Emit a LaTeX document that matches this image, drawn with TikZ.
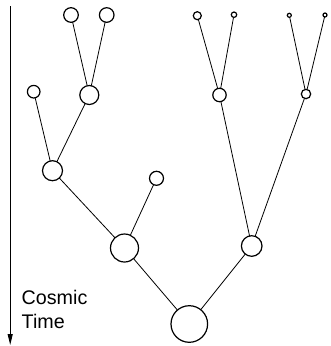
\documentclass[tikz,border=0pt]{standalone}
\usepackage{fontspec}
\setmainfont{Liberation Sans}
\usetikzlibrary{arrows.meta}
\begin{document}
\begin{tikzpicture}[x=1pt,y=-1pt,
  halo/.style={circle,draw,line width=1.2pt,inner sep=0pt,outer sep=0pt,minimum size=#1},
  link/.style={line width=0.8pt},
  axislabel/.style={anchor=base west,inner sep=0pt,font=\fontsize{19.7}{24}\selectfont}]
\useasboundingbox (0,0) rectangle (331,346);
% merger tree: haloes drawn as circles sized by mass
\node[halo=36.6pt] (root) at (189.3,324) {};
\node[halo=28pt]   (l1)   at (124.5,248) {};
\node[halo=20.6pt] (r1)   at (251.7,246) {};
\node[halo=20pt]   (l2)   at (52.5,170.7) {};
\node[halo=14pt]   (s1)   at (156.5,178.3) {};
\node[halo=12.6pt] (a1)   at (33.7,91.7) {};
\node[halo=19pt]   (l3)   at (89.3,95) {};
\node[halo=14.6pt] (t1)   at (71,15) {};
\node[halo=14.6pt] (t2)   at (106.7,15) {};
\node[halo=13.4pt] (r2)   at (219.5,95) {};
\node[halo=9.4pt]  (r3)   at (306,94) {};
\node[halo=8pt]    (u1)   at (197.3,15.7) {};
\node[halo=5.4pt]  (u2)   at (234,14.7) {};
\node[halo=4pt]    (v1)   at (289.3,15.3) {};
\node[halo=4pt]    (v2)   at (325,15) {};
% progenitor links
\draw[link] (root) -- (l1);
\draw[link] (root) -- (r1);
\draw[link] (l1) -- (l2);
\draw[link] (l1) -- (s1);
\draw[link] (l2) -- (a1);
\draw[link] (l2) -- (l3);
\draw[link] (l3) -- (t1);
\draw[link] (l3) -- (t2);
\draw[link] (r1) -- (r2);
\draw[link] (r1) -- (r3);
\draw[link] (r2) -- (u1);
\draw[link] (r2) -- (u2);
\draw[link] (r3) -- (v1);
\draw[link] (r3) -- (v2);
% time axis
\coordinate (ttop) at (10.2,6);
\coordinate (tbot) at (10.2,345);
\draw[line width=1pt,-{Triangle[length=11pt,width=5pt]}] (ttop) -- (tbot);
\node[axislabel] (lbl1) at (21.5,304.3) {Cosmic};
\node[axislabel] (lbl2) at (21.5,328.3) {Time};
\end{tikzpicture}
\end{document}
